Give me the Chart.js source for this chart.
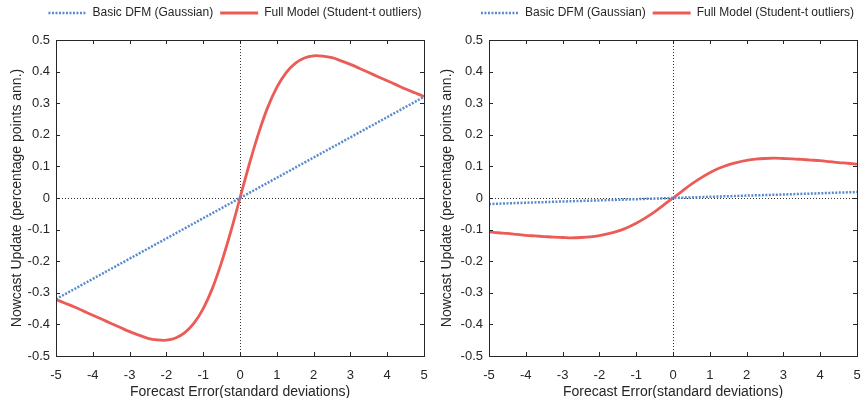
<!DOCTYPE html>
<html>
<head>
<meta charset="utf-8">
<script src="https://cdn.jsdelivr.net/npm/chart.js@4.4.1/dist/chart.umd.min.js"></script>
<style>
  body { margin: 0; background: #fff; }
  .box { position: absolute; top: 0; height: 398px; }
</style>
</head>
<body>
<div class="box" style="left:0;width:430px"><canvas id="leftChart"></canvas></div>
<div class="box" style="left:430px;width:431px"><canvas id="rightChart"></canvas></div>
<script>
const xTicks = [-5, -4, -3, -2, -1, 0, 1, 2, 3, 4, 5];
const yTicks = [-0.5, -0.4, -0.3, -0.2, -0.1, 0, 0.1, 0.2, 0.3, 0.4, 0.5];

const xBasic = [-5, -4, -3, -2, -1, 0, 1, 2, 3, 4, 5];
const basicLeft = [-0.32, -0.256, -0.192, -0.128, -0.064, 0, 0.064, 0.128, 0.192, 0.256, 0.32];
const basicRight = [-0.019, -0.015, -0.011, -0.0076, -0.0038, 0, 0.0038, 0.0076, 0.011, 0.015, 0.019];

const xFull = [-5, -4.75, -4.5, -4.25, -4, -3.75, -3.5, -3.25, -3, -2.75, -2.5, -2.25, -2, -1.75, -1.5, -1.25, -1, -0.75, -0.5, -0.25,
  0, 0.25, 0.5, 0.75, 1, 1.25, 1.5, 1.75, 2, 2.25, 2.5, 2.75, 3, 3.25, 3.5, 3.75, 4, 4.25, 4.5, 4.75, 5];
const fullLeft = [-0.321, -0.333, -0.345, -0.358, -0.371, -0.384, -0.397, -0.41, -0.423, -0.434, -0.444, -0.449, -0.45, -0.443, -0.426, -0.396, -0.35, -0.286, -0.203, -0.106,
  0, 0.106, 0.203, 0.286, 0.35, 0.396, 0.426, 0.443, 0.45, 0.449, 0.444, 0.434, 0.423, 0.41, 0.397, 0.384, 0.371, 0.358, 0.345, 0.333, 0.321];
const fullRight = [-0.107, -0.11, -0.112, -0.115, -0.118, -0.12, -0.122, -0.124, -0.125, -0.126, -0.125, -0.123, -0.119, -0.113, -0.105, -0.094, -0.08, -0.063, -0.044, -0.022,
  0, 0.022, 0.044, 0.063, 0.08, 0.094, 0.105, 0.113, 0.119, 0.123, 0.125, 0.126, 0.125, 0.124, 0.122, 0.12, 0.118, 0.115, 0.112, 0.11, 0.107];

const seriesNames = ['Basic DFM (Gaussian)', 'Full Model (Student-t outliers)'];
const blue = 'rgb(86,139,205)';
const red = 'rgb(235,92,87)';
const ink = '#262626';
const fontFamily = "'Liberation Sans', Arial, sans-serif";

// box, inward ticks and dotted zero lines, like the matlab axes
const boxPlugin = {
  id: 'boxPlugin',
  afterLayout(chart) {
    // legend sits over the axes, not the whole canvas
    const shift = chart.options.legendShift || 0;
    chart.legend.left += shift;
    chart.legend.right += shift;
  },
  beforeDatasetsDraw(chart) {
    const { ctx, chartArea: a, scales: { x, y } } = chart;
    ctx.save();
    ctx.strokeStyle = '#333';
    ctx.lineWidth = 1;
    ctx.setLineDash([1, 2]);
    const x0 = Math.round(x.getPixelForValue(0)) + 0.5;
    const y0 = Math.round(y.getPixelForValue(0)) + 0.5;
    ctx.beginPath();
    ctx.moveTo(x0, a.top); ctx.lineTo(x0, a.bottom);
    ctx.moveTo(a.left, y0); ctx.lineTo(a.right, y0);
    ctx.stroke();
    ctx.restore();
  },
  afterDraw(chart) {
    const { ctx, chartArea: a, scales: { x, y } } = chart;
    ctx.save();
    ctx.strokeStyle = ink;
    ctx.lineWidth = 1;
    ctx.strokeRect(Math.round(a.left) + 0.5, Math.round(a.top) + 0.5, Math.round(a.right - a.left), Math.round(a.bottom - a.top));
    ctx.beginPath();
    const len = 4;
    xTicks.forEach(v => {
      const px = Math.round(x.getPixelForValue(v)) + 0.5;
      ctx.moveTo(px, a.bottom); ctx.lineTo(px, a.bottom - len);
      ctx.moveTo(px, a.top); ctx.lineTo(px, a.top + len);
    });
    yTicks.forEach(v => {
      const py = Math.round(y.getPixelForValue(v)) + 0.5;
      ctx.moveTo(a.left, py); ctx.lineTo(a.left + len, py);
      ctx.moveTo(a.right, py); ctx.lineTo(a.right - len, py);
    });
    ctx.stroke();
    ctx.restore();
  }
};

function makeChart(id, basicVals, fullVals, yWidth, rightPad, legendShift) {
  const ctx = document.getElementById(id).getContext('2d');
  return new Chart(ctx, {
    type: 'scatter',
    data: {
      datasets: [{
        label: seriesNames[0],
        data: xBasic.map((v, i) => ({ x: v, y: basicVals[i] })),
        showLine: true,
        borderColor: blue,
        backgroundColor: blue,
        borderWidth: 2.5,
        borderDash: [2, 1.5],
        pointRadius: 0
      }, {
        label: seriesNames[1],
        data: xFull.map((v, i) => ({ x: v, y: fullVals[i] })),
        showLine: true,
        borderColor: red,
        backgroundColor: red,
        borderWidth: 2.8,
        tension: 0.3,
        pointRadius: 0
      }]
    },
    options: {
      responsive: true,
      maintainAspectRatio: false,
      animation: false,
      legendShift: legendShift,
      layout: { padding: { left: 0, right: rightPad, top: 0, bottom: 0 } },
      plugins: {
        tooltip: { enabled: false },
        legend: {
          position: 'top',
          labels: {
            usePointStyle: true,
            pointStyleWidth: 38,
            padding: 7,
            color: ink,
            font: { family: fontFamily, size: 12 },
            generateLabels: chart => chart.data.datasets.map((ds, i) => ({
              text: ds.label,
              datasetIndex: i,
              fillStyle: ds.borderColor,
              strokeStyle: ds.borderColor,
              fontColor: ink,
              lineWidth: ds.borderWidth,
              lineDash: ds.borderDash || [],
              lineCap: 'butt',
              pointStyle: 'line',
              hidden: false
            }))
          }
        }
      },
      scales: {
        x: {
          type: 'linear',
          min: -5, max: 5,
          afterFit: s => { s.height = 42; s.paddingLeft = 0; s.paddingRight = 0; },
          afterBuildTicks: s => { s.ticks = xTicks.map(v => ({ value: v })); },
          grid: { display: false, drawTicks: false },
          border: { display: false },
          ticks: { color: ink, padding: 12, maxRotation: 0, font: { family: fontFamily, size: 13 } },
          title: { display: true, text: 'Forecast Error(standard deviations)', color: ink, padding: { top: 0, bottom: -3 }, font: { family: fontFamily, size: 14 } }
        },
        xTop: {
          type: 'linear',
          position: 'top',
          display: true,
          afterFit: s => { s.height = 11; s.paddingLeft = 0; s.paddingRight = 0; },
          grid: { display: false, drawTicks: false },
          border: { display: false },
          ticks: { display: false }
        },
        y: {
          min: -0.5, max: 0.5,
          afterFit: s => { s.width = yWidth; },
          afterBuildTicks: s => { s.ticks = yTicks.map(v => ({ value: v })); },
          grid: { display: false, drawTicks: false },
          border: { display: false },
          ticks: { color: ink, padding: 6, font: { family: fontFamily, size: 13 } },
          title: { display: true, text: 'Nowcast Update (percentage points ann.)', color: ink, padding: { top: 9, bottom: 0 }, font: { family: fontFamily, size: 14 } }
        }
      }
    },
    plugins: [boxPlugin]
  });
}

makeChart('leftChart', basicLeft, fullLeft, 56, 6, 23);
makeChart('rightChart', basicRight, fullRight, 59, 4, 24);
</script>
</body>
</html>
